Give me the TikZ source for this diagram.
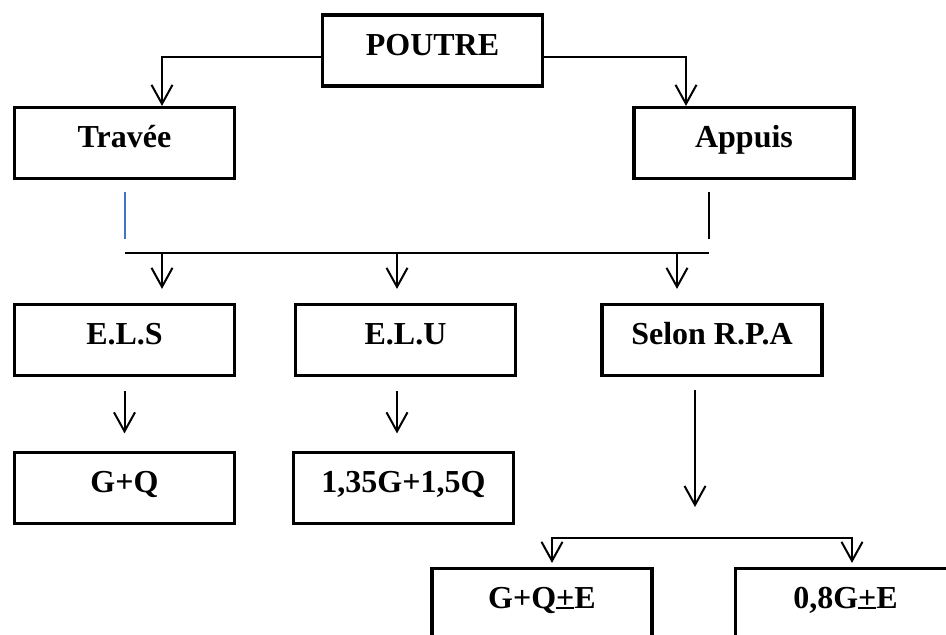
\documentclass[tikz,border=0pt]{standalone}
\usepackage{fontspec}
\setmainfont{Liberation Serif}
\usetikzlibrary{arrows.meta}
\definecolor{stubblue}{RGB}{68,114,196}
% plus sign with a bar at the baseline
\newcommand{\plusbar}{\leavevmode\rlap{\rule[-0.01em]{0.57em}{0.065em}}+}

\begin{document}
\begin{tikzpicture}[x=0.5pt, y=-0.5pt,
    box/.style={draw, line width=1.6pt, minimum width=110pt, minimum height=35.5pt,
      inner ysep=0pt, text height=20.05pt, text depth=15.45pt,
      font=\fontsize{16}{19}\selectfont\bfseries},
    link/.style={line width=1pt},
    >={Straight Barb[length=9.5pt,width=10.5pt]}]
  \useasboundingbox (0,0) rectangle (946,634);
  \clip (0,0) rectangle (946,634);

  % boxes
  \node[box] (poutre) at (432.5,50.5) {POUTRE};
  \node[box] (travee) at (124.5,143) {Travée};
  \node[box] (appuis) at (744,143) {Appuis};
  \node[box] (els) at (124.5,340) {E.L.S};
  \node[box] (elu) at (405.5,340) {E.L.U};
  \node[box] (rpa) at (712,340) {Selon R.P.A};
  \node[box] (gq) at (124.5,488) {G+Q};
  \node[box] (elucomb) at (403.5,488) {1,35G+1,5Q};
  \node[box] (acc1) at (542,604) {G+Q\plusbar E};
  \node[box] (acc2) at (845.5,604) {0,8G\plusbar E};

  \coordinate (stubL) at (125,192);
  \coordinate (stubLend) at (125,239);
  \coordinate (stubR) at (709,192);
  \coordinate (stubRend) at (709,239);
  \coordinate (busL) at (125,253);
  \coordinate (busR) at (709,253);
  \coordinate (split) at (695,538);

  % POUTRE -> Travee / Appuis
  \draw[link,->] ([yshift=-3.25pt]poutre.west) -| ([xshift=18.75pt]travee.north);
  \draw[link,->] ([yshift=-3.25pt]poutre.east) -| ([xshift=-29pt]appuis.north);

  \draw[stubblue, line width=0.75pt] (stubL) -- (stubLend);
  \draw[line width=0.75pt] (stubR) -- (stubRend);
  \draw[line width=1.25pt] (busL) -- (busR);

  \foreach \n/\dx in {els/18.75, elu/-4.25, rpa/-17.5}
    \draw[link,->,shorten >=7pt] ([xshift=\dx pt]\n.north |- busL) -- ([xshift=\dx pt]\n.north);

  % combinations
  \draw[link,->,shorten <=7pt,shorten >=8.75pt] (els) -- (gq);
  \draw[link,->,shorten <=7pt,shorten >=8.75pt] ([xshift=-4.25pt]elu.south)
    -- ([xshift=-4.25pt]elu.south |- elucomb.north);
  \draw[link,->,shorten <=6.25pt,shorten >=15.5pt] ([xshift=-8.5pt]rpa.south) -- (split);
  \draw[link,->,shorten >=2pt] (split) -| ([xshift=5pt]acc1.north);
  \draw[link,->,shorten >=2pt] (split) -| ([xshift=3.25pt]acc2.north);
\end{tikzpicture}
\end{document}
